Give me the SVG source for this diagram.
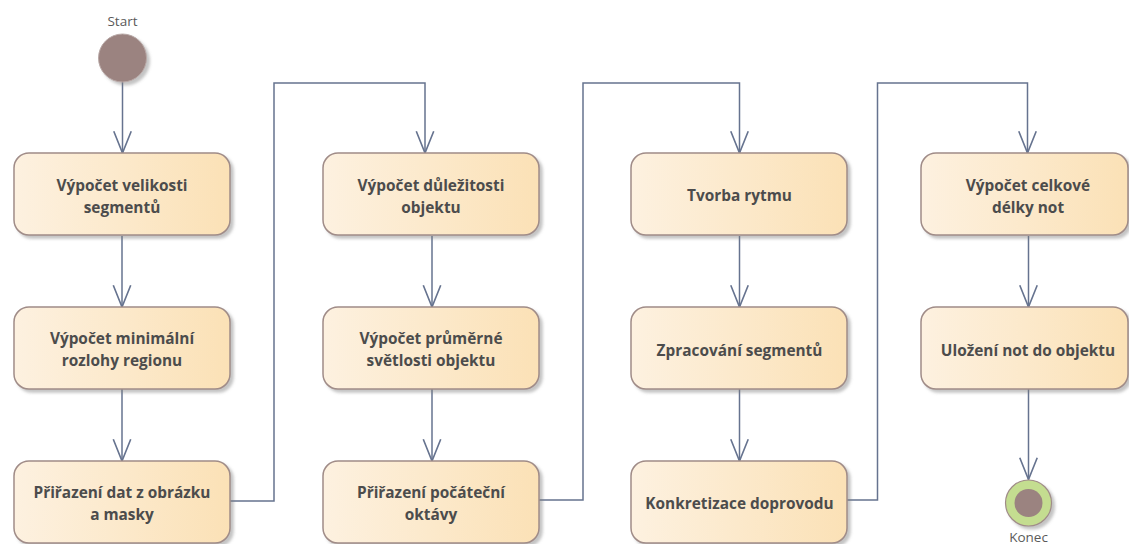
<svg xmlns="http://www.w3.org/2000/svg" width="1129" height="544" viewBox="0 0 1129 544">
<style>
.node rect{fill:url(#g);stroke:#a08c88;stroke-width:1.5;filter:url(#sh)}
.node text{font-family:"Open Sans","Noto Sans",sans-serif;font-weight:bold;font-size:15.4px;fill:#4c4c4c;text-anchor:middle}
.lbl{font-family:"Open Sans","Noto Sans",sans-serif;font-size:13.5px;fill:#5a5a5a;text-anchor:middle}
#connectors path{fill:none;stroke:#66738f;stroke-width:1.5;marker-end:url(#arr)}
</style>
<defs>
<linearGradient id="g" x1="0" y1="0" x2="1" y2="0">
<stop offset="0" stop-color="#fdf1e0"/>
<stop offset="1" stop-color="#fbe1b6"/>
</linearGradient>
<filter id="sh" x="-10%" y="-10%" width="130%" height="140%">
<feDropShadow dx="3" dy="3" stdDeviation="1.5" flood-color="#7a7a7a" flood-opacity="0.45"/>
</filter>
<marker id="arr" markerUnits="userSpaceOnUse" markerWidth="24" markerHeight="20" viewBox="-1 -1 22 18" refX="20" refY="8" orient="auto">
<path d="M0,0 L20,8 L0,16" fill="none" stroke="#66738f" stroke-width="1.5"/>
</marker>
</defs>
<rect width="1129" height="544" fill="#ffffff"/>

<g id="connectors">
<path d="M122.5,82 V153"/>
<path d="M122,236 V307"/>
<path d="M122,389 V461"/>
<path d="M230,501 H274 V83 H425 V153"/>
<path d="M432,236 V307"/>
<path d="M432,389 V461"/>
<path d="M539,500 H583 V83 H739.5 V153"/>
<path d="M739.5,236 V307"/>
<path d="M739.5,389 V461"/>
<path d="M847,500 H877.5 V83 H1027.5 V153"/>
<path d="M1028.5,236 V307"/>
<path d="M1028.5,389 V479.5"/>
</g>

<g id="start">
<text class="lbl" x="122.5" y="26">Start</text>
<circle cx="122.5" cy="58" r="24" fill="#9b8380" stroke="#b8a8a6" stroke-width="1" filter="url(#sh)"/>
</g>

<g id="n1" class="node"><rect x="14" y="153" width="216" height="82" rx="15"/><text x="122" y="190.5">Výpočet velikosti</text><text x="122" y="212.5">segmentů</text></g>
<g id="n2" class="node"><rect x="14" y="307" width="216" height="82" rx="15"/><text x="122" y="343.5">Výpočet minimální</text><text x="122" y="365.5">rozlohy regionu</text></g>
<g id="n3" class="node"><rect x="14" y="461" width="216" height="82" rx="15"/><text x="122" y="497.5">Přiřazení dat z obrázku</text><text x="122" y="519.5">a masky</text></g>

<g id="n4" class="node"><rect x="323" y="153" width="216" height="82" rx="15"/><text x="431" y="190.5">Výpočet důležitosti</text><text x="431" y="212.5">objektu</text></g>
<g id="n5" class="node"><rect x="323" y="307" width="216" height="82" rx="15"/><text x="431" y="343.5">Výpočet průměrné</text><text x="431" y="365.5">světlosti objektu</text></g>
<g id="n6" class="node"><rect x="323" y="461" width="216" height="82" rx="15"/><text x="431" y="497.5">Přiřazení počáteční</text><text x="431" y="519.5">oktávy</text></g>

<g id="n7" class="node"><rect x="631" y="153" width="216" height="82" rx="15"/><text x="739.5" y="200.5">Tvorba rytmu</text></g>
<g id="n8" class="node"><rect x="631" y="307" width="216" height="82" rx="15"/><text x="739.5" y="355.5">Zpracování segmentů</text></g>
<g id="n9" class="node"><rect x="631" y="461" width="216" height="82" rx="15"/><text x="739.5" y="508.5">Konkretizace doprovodu</text></g>

<g id="n10" class="node"><rect x="921" y="153" width="207" height="82" rx="15"/><text x="1028" y="190.5">Výpočet celkové</text><text x="1028" y="212.5">délky not</text></g>
<g id="n11" class="node"><rect x="921" y="307" width="207" height="82" rx="15"/><text x="1028" y="355.5">Uložení not do objektu</text></g>

<g id="end">
<circle cx="1028.5" cy="503" r="23" fill="#c4dd90" stroke="#a08c88" stroke-width="1.2" filter="url(#sh)"/>
<circle cx="1028.5" cy="503" r="14" fill="#9b8380"/>
<text class="lbl" x="1028.5" y="542">Konec</text>
</g>
</svg>
